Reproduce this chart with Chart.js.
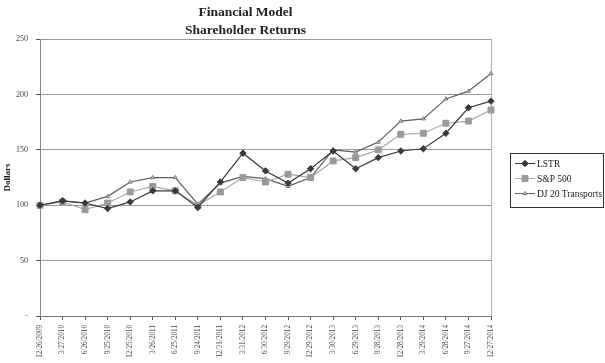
<!DOCTYPE html>
<html>
<head>
<meta charset="utf-8">
<script src="https://cdn.jsdelivr.net/npm/chart.js@4/dist/chart.umd.min.js"></script>
<style>
  html, body { margin: 0; padding: 0; background: #fff; }
  #wrap { width: 605px; height: 363px; }
</style>
</head>
<body>
<div id="wrap"><canvas id="chart"></canvas></div>
<script>
// --- datos ---
const fechas = ['12/26/2009', '3/27/2010', '6/26/2010', '9/25/2010', '12/25/2010', '3/26/2011',
  '6/25/2011', '9/24/2011', '12/31/2011', '3/31/2012', '6/30/2012', '9/29/2012', '12/29/2012',
  '3/30/2013', '6/29/2013', '9/28/2013', '12/28/2013', '3/29/2014', '6/28/2014', '9/27/2014', '12/27/2014'];
const lstr = [100, 104, 102, 97, 103, 113, 113, 98, 121, 147, 131, 120, 133, 149, 133, 143, 149, 151, 165, 188, 194];
const sp500 = [100, 103, 96, 102, 112, 117, 113, 100, 112, 125, 121, 128, 125, 140, 143, 150, 164, 165, 174, 176, 186];
const dj20 = [100, 104, 102, 108, 121, 125, 125, 101, 120, 126, 124, 117, 125, 150, 148, 157, 176, 178, 196, 203, 219];
const yTicks = [0, 50, 100, 150, 200, 250];

const serif = '"Liberation Serif", "Times New Roman", serif';

const series = [
  { label: 'LSTR', data: lstr, line: '#3a3a3a', fill: '#3a3a3a', style: 'rectRot', r: 3.2 },
  { label: 'S&P 500', data: sp500, line: '#a8a8a8', fill: '#9a9a9a', style: 'rect', r: 4.2 },
  { label: 'DJ 20 Transports', data: dj20, line: '#5c5c5c', fill: '#d0d0d0', style: 'triangle', r: 2.2 }
];

// leyenda con recuadro, dibujada a mano a la derecha
const boxLegend = {
  id: 'boxLegend',
  afterDraw(chart) {
    const ctx = chart.ctx;
    const x = 510, y = 153, w = 93, h = 54;
    ctx.save();
    ctx.strokeStyle = '#333';
    ctx.lineWidth = 1;
    ctx.strokeRect(x + 0.5, y + 0.5, w, h);
    ctx.font = '9.5px ' + serif;
    ctx.textBaseline = 'middle';
    series.forEach((s, i) => {
      const cy = y + 10 + i * 15;
      ctx.strokeStyle = s.line;
      ctx.lineWidth = 1;
      ctx.beginPath();
      ctx.moveTo(x + 5, cy + 0.5);
      ctx.lineTo(x + 25, cy + 0.5);
      ctx.stroke();
      ctx.fillStyle = s.fill;
      ctx.strokeStyle = s.style === 'triangle' ? '#777' : s.fill;
      Chart.helpers.drawPoint(ctx, { pointStyle: s.style, radius: s.r, rotation: 0, borderWidth: 1 }, x + 15, cy + 0.5);
      ctx.fillStyle = '#222';
      ctx.fillText(s.label, x + 27, cy + 1);
    });
    ctx.restore();
  }
};

new Chart(document.getElementById('chart'), {
  type: 'line',
  data: {
    labels: fechas,
    datasets: series.map(s => ({
      label: s.label,
      data: s.data,
      borderColor: s.line,
      borderWidth: 1.2,
      backgroundColor: s.fill,
      pointStyle: s.style,
      pointRadius: s.r,
      pointBackgroundColor: s.fill,
      pointBorderColor: s.style === 'triangle' ? '#777' : s.fill,
      pointBorderWidth: 1,
      tension: 0
    }))
  },
  options: {
    responsive: true,
    maintainAspectRatio: false,
    animation: false,
    layout: { padding: { left: 0, right: 114, top: 0, bottom: 0 } },
    plugins: {
      legend: { display: false },
      tooltip: { enabled: false },
      title: {
        display: true,
        text: ['Financial Model', 'Shareholder Returns'],
        color: '#222',
        font: { family: serif, size: 13.5, weight: 'bold', lineHeight: 1.3 },
        padding: { top: 4, bottom: 0 }
      }
    },
    scales: {
      x: {
        offset: false,
        afterFit: axis => { axis.height = 47; },
        grid: {
          color: ctx => ctx.index === fechas.length - 1 ? '#b0b0b0' : 'transparent',
          tickColor: '#555',
          tickLength: 4,
          drawOnChartArea: true
        },
        border: { color: '#777', width: 1 },
        ticks: {
          autoSkip: false,
          maxRotation: 90,
          minRotation: 90,
          color: '#444',
          padding: 5,
          font: { family: serif, size: 7.2 }
        }
      },
      y: {
        min: 0,
        max: 250,
        afterFit: axis => { axis.width = 40; },
        afterBuildTicks: axis => { axis.ticks = yTicks.map(v => ({ value: v })); },
        grid: { color: '#9a9a9a', tickColor: '#555', tickLength: 4 },
        border: { color: '#888', width: 1 },
        ticks: {
          color: '#444',
          padding: 8,
          font: { family: serif, size: 8 },
          callback: v => v === 0 ? '-' : v
        },
        title: {
          display: true,
          text: 'Dollars',
          color: '#222',
          padding: { top: 2, bottom: 2 },
          font: { family: serif, size: 9, weight: 'bold' }
        }
      }
    }
  },
  plugins: [boxLegend]
});
</script>
</body>
</html>
